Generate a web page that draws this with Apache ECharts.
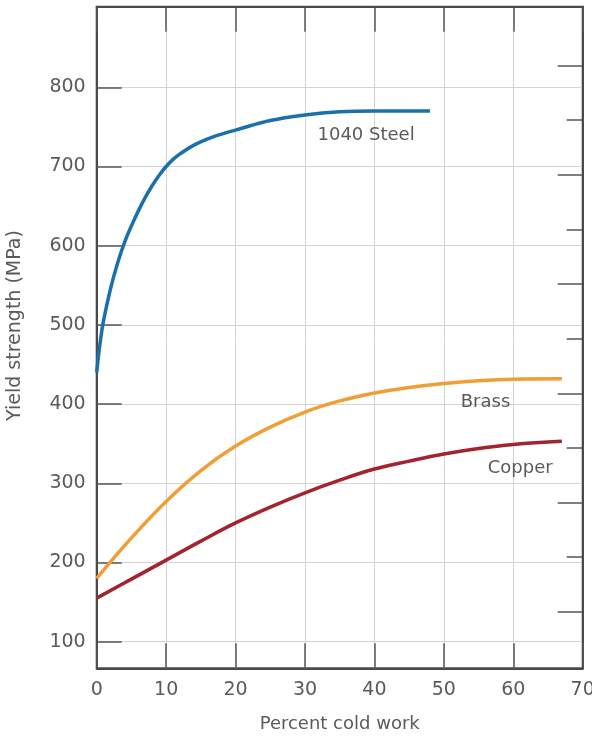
<!DOCTYPE html>
<html>
<head>
<meta charset="utf-8">
<script src="https://cdn.jsdelivr.net/npm/echarts@6/dist/echarts.min.js"></script>
<style>
  html, body { margin: 0; padding: 0; background: #fff; }
  #chart { width: 592px; height: 741px; }
</style>
</head>
<body>
<div id="chart"></div>
<script>
// percent cold work / yield strength (MPa)
const steelX = [0, 0.5, 1, 2, 3, 4, 5, 6, 7, 8, 9, 10, 11, 12, 14, 16, 18, 20, 25, 30, 35, 40, 48];
const steelY = [440, 478, 506, 546, 578, 604, 625, 644, 661, 676, 689, 700, 709, 716, 727, 735, 741, 746, 758, 765, 769, 770, 770];
const brassX = [0, 5, 10, 15, 20, 25, 30, 35, 40, 45, 50, 55, 60, 67];
const brassY = [180, 231, 277, 316, 347, 371, 390, 404, 414, 421, 426, 429.5, 431.5, 432];
const copperX = [0, 5, 10, 15, 20, 25, 30, 35, 40, 45, 50, 55, 60, 67];
const copperY = [155, 179, 203, 227, 250, 270, 288, 304, 318, 328, 337, 344, 349, 353];

const mpaTicks = [100, 200, 300, 400, 500, 600, 700, 800];
// right side ticks are in ksi (no labels), long and short alternating
const ksiLong = [20, 40, 60, 80, 100, 120];
const ksiShort = [30, 50, 70, 90, 110];
const KSI = 6.895;

const textColor = "#5a5a5a";
const font = "DejaVu Sans";
const yMin = 66.4;
const yMax = 901.8;

const zip = (xs, ys) => xs.map((x, i) => [x, ys[i]]);

function labelPoint(name, x, y) {
  return {
    symbol: "circle",
    symbolSize: 1,
    itemStyle: { color: "rgba(0,0,0,0)" },
    label: {
      show: true,
      position: "inside",
      color: textColor,
      fontFamily: font,
      fontSize: 18,
      formatter: name,
    },
    data: [{ coord: [x, y] }],
  };
}

const chart = echarts.init(document.getElementById("chart"));
const option = {
  animation: false,
  backgroundColor: "#fff",
  grid: {
    left: 96.7,
    right: 9.3,
    top: 6.7,
    bottom: 72.7,
    outerBoundsMode: "none",
    containLabel: false,
    show: true,
    borderColor: "#4a4a4a",
    borderWidth: 2,
  },
  xAxis: [
    {
      type: "value",
      position: "bottom",
      min: 0,
      max: 70,
      interval: 10,
      name: "Percent cold work",
      nameLocation: "middle",
      nameGap: 47,
      nameTextStyle: { color: textColor, fontFamily: font, fontSize: 18 },
      axisLine: { show: true, onZero: false, lineStyle: { color: "#4a4a4a", width: 2 } },
      axisTick: { show: true, inside: true, length: 25, lineStyle: { color: "#555", width: 1.5 } },
      axisLabel: { color: textColor, fontFamily: font, fontSize: 19, margin: 12 },
      splitLine: { show: true, lineStyle: { color: "#d4d4d4", width: 1 } },
    },
    {
      type: "value",
      position: "top",
      min: 0,
      max: 70,
      interval: 10,
      axisLine: { show: true, onZero: false, lineStyle: { color: "#4a4a4a", width: 2 } },
      axisTick: { show: true, inside: true, length: 25, lineStyle: { color: "#555", width: 1.5 } },
      axisLabel: { show: false },
      splitLine: { show: false },
    },
  ],
  yAxis: [
    {
      type: "value",
      position: "left",
      min: yMin,
      max: yMax,
      name: "Yield strength (MPa)",
      nameLocation: "middle",
      nameGap: 72,
      nameTextStyle: { color: textColor, fontFamily: font, fontSize: 19, padding: [0, 0, 0, 24] },
      axisLine: { show: true, onZero: false, lineStyle: { color: "#4a4a4a", width: 2 } },
      axisTick: {
        show: true,
        inside: true,
        length: 25,
        customValues: mpaTicks,
        lineStyle: { color: "#555", width: 1.5 },
      },
      axisLabel: {
        color: textColor,
        fontFamily: font,
        fontSize: 19,
        margin: 11,
        customValues: mpaTicks,
      },
      splitLine: { show: true, lineStyle: { color: "#d4d4d4", width: 1 } },
    },
    {
      type: "value",
      position: "right",
      min: yMin,
      max: yMax,
      axisLine: { show: true, onZero: false, lineStyle: { color: "#4a4a4a", width: 2 } },
      axisTick: {
        show: true,
        inside: true,
        length: 25,
        customValues: ksiLong.map((v) => v * KSI),
        lineStyle: { color: "#555", width: 1.5 },
      },
      axisLabel: { show: false },
      splitLine: { show: false },
    },
    {
      type: "value",
      position: "right",
      min: yMin,
      max: yMax,
      axisLine: { show: false, onZero: false },
      axisTick: {
        show: true,
        inside: true,
        length: 16,
        customValues: ksiShort.map((v) => v * KSI),
        lineStyle: { color: "#555", width: 1.5 },
      },
      axisLabel: { show: false },
      splitLine: { show: false },
    },
  ],
  series: [
    {
      name: "1040 Steel",
      type: "line",
      smooth: 0.4,
      showSymbol: false,
      lineStyle: { color: "#1b6fab", width: 3.5 },
      data: zip(steelX, steelY),
      markPoint: labelPoint("1040 Steel", 38.8, 740),
    },
    {
      name: "Brass",
      type: "line",
      smooth: 0.4,
      showSymbol: false,
      lineStyle: { color: "#ef9f36", width: 3.5 },
      data: zip(brassX, brassY),
      markPoint: labelPoint("Brass", 56, 402),
    },
    {
      name: "Copper",
      type: "line",
      smooth: 0.4,
      showSymbol: false,
      lineStyle: { color: "#a3242e", width: 3.5 },
      data: zip(copperX, copperY),
      markPoint: labelPoint("Copper", 61, 319),
    },
  ],
};
chart.setOption(option);
</script>
</body>
</html>
